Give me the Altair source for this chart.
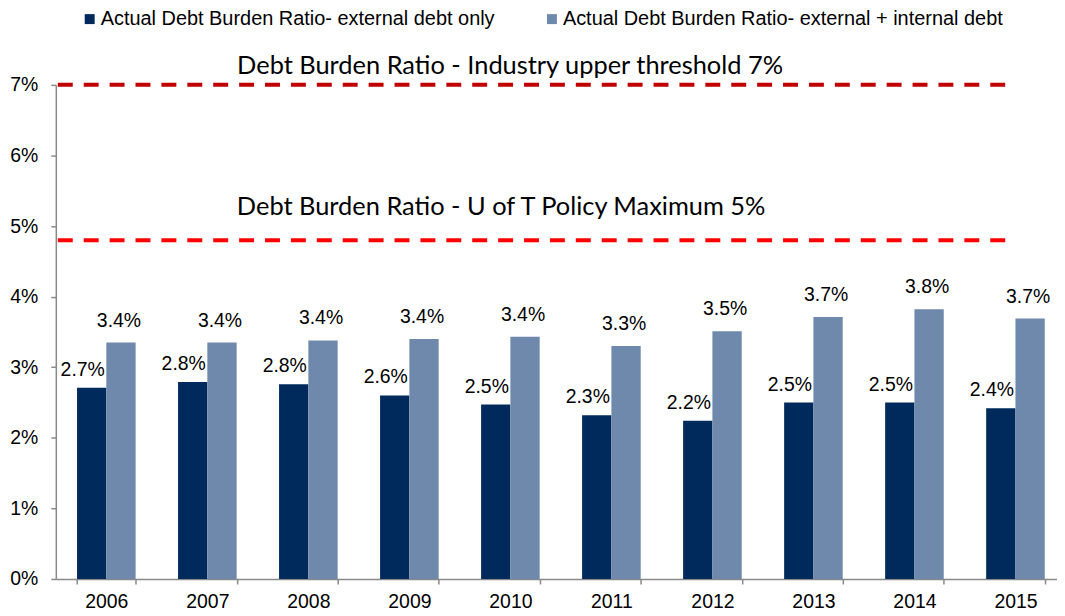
import altair as alt
import pandas as pd

years = ["2006", "2007", "2008", "2009", "2010", "2011", "2012", "2013", "2014", "2015"]
ext_only = [2.71, 2.79, 2.76, 2.60, 2.47, 2.32, 2.24, 2.50, 2.50, 2.42]
ext_int = [3.35, 3.35, 3.38, 3.40, 3.43, 3.30, 3.51, 3.71, 3.82, 3.69]
ext_only_labels = ["2.7%", "2.8%", "2.8%", "2.6%", "2.5%", "2.3%", "2.2%", "2.5%", "2.5%", "2.4%"]
ext_int_labels = ["3.4%", "3.4%", "3.4%", "3.4%", "3.4%", "3.3%", "3.5%", "3.7%", "3.8%", "3.7%"]
series_names = ["Actual Debt Burden Ratio- external debt only",
                "Actual Debt Burden Ratio- external + internal debt"]
series_colors = ["#002A5C", "#6E89AB"]
threshold_values = [7.0, 4.8]
threshold_texts = ["Debt Burden Ratio - Industry upper threshold 7%",
                   "Debt Burden Ratio - U of T Policy Maximum 5%"]
threshold_colors = ["#C00000", "#FF0000"]

rows = []
for i, y in enumerate(years):
    rows.append({"year": y, "series": series_names[0], "value": ext_only[i], "label": ext_only_labels[i]})
    rows.append({"year": y, "series": series_names[1], "value": ext_int[i], "label": ext_int_labels[i]})
df = pd.DataFrame(rows)
thr = pd.DataFrame({"value": threshold_values, "text": threshold_texts, "color": threshold_colors})

AX_FONT = "Liberation Sans"

x_enc = alt.X("year:N", sort=years,
              scale=alt.Scale(paddingInner=0.42, paddingOuter=0.21, range=[0, 1014]),
              axis=alt.Axis(title=None, labelAngle=0, tickBand="extent", labelFont=AX_FONT,
                            labelFontSize=19.5, labelColor="#000", labelPadding=9,
                            domainColor="#898989", domainWidth=1.5, tickColor="#898989",
                            tickWidth=1.5, tickSize=5, grid=False))
xo_enc = alt.XOffset("series:N", sort=series_names, scale=alt.Scale(paddingInner=0, paddingOuter=0))
y_enc = alt.Y("value:Q", scale=alt.Scale(domain=[0, 7], nice=False),
              axis=alt.Axis(title=None, values=[0, 1, 2, 3, 4, 5, 6, 7], labelExpr="datum.value + '%'",
                            labelFont=AX_FONT, labelFontSize=19.5, labelColor="#000", labelPadding=13,
                            domainColor="#898989", domainWidth=1.5, tickColor="#898989",
                            tickWidth=1.5, tickSize=5, grid=False))

base = alt.Chart(df).encode(x=x_enc, xOffset=xo_enc, y=y_enc)

bars = base.mark_bar().encode(
    color=alt.Color("series:N", sort=series_names,
                    scale=alt.Scale(domain=series_names, range=series_colors),
                    legend=alt.Legend(orient="none", legendX=24, legendY=-76, direction="horizontal",
                                      title=None, symbolType="square", symbolSize=100,
                                      symbolStrokeWidth=0, labelFont=AX_FONT, labelFontSize=20,
                                      labelColor="#000", labelLimit=0, labelOffset=1,
                                      columnPadding=47))
)

txt_dark = base.transform_filter(alt.datum.series == series_names[0]).mark_text(
    dx=-9, dy=-12, baseline="alphabetic", font=AX_FONT, fontSize=19.5, color="#000"
).encode(text="label:N")
txt_light = base.transform_filter(alt.datum.series == series_names[1]).mark_text(
    dx=-2, dy=-16, baseline="alphabetic", font=AX_FONT, fontSize=19.5, color="#000"
).encode(text="label:N")

rules = alt.Chart(thr).mark_rule(strokeDash=[15, 11], strokeWidth=4).encode(
    y=alt.Y("value:Q"), x=alt.value(2), x2=alt.value(962),
    color=alt.Color("color:N", scale=None, legend=None)
)

ann_top = alt.Chart(thr).transform_filter(alt.datum.value == threshold_values[0]).mark_text(
    font="Lato", fontSize=25.5, baseline="alphabetic", align="center", dy=-11, color="#000"
).encode(y=alt.Y("value:Q"), x=alt.value(456), text="text:N")
ann_bot = alt.Chart(thr).transform_filter(alt.datum.value == threshold_values[1]).mark_text(
    font="Lato", fontSize=25.5, baseline="alphabetic", align="center", dy=-25, color="#000"
).encode(y=alt.Y("value:Q"), x=alt.value(447), text="text:N")

chart = alt.layer(bars, txt_dark, txt_light, rules, ann_top, ann_bot).properties(
    width=1005, height=496,
    autosize=alt.AutoSizeParams(type="none"),
    padding={"left": 48, "top": 76, "right": 0, "bottom": 32},
).configure_view(stroke=None)

chart.save("out.html", embed_options={"renderer": "svg", "actions": False})
